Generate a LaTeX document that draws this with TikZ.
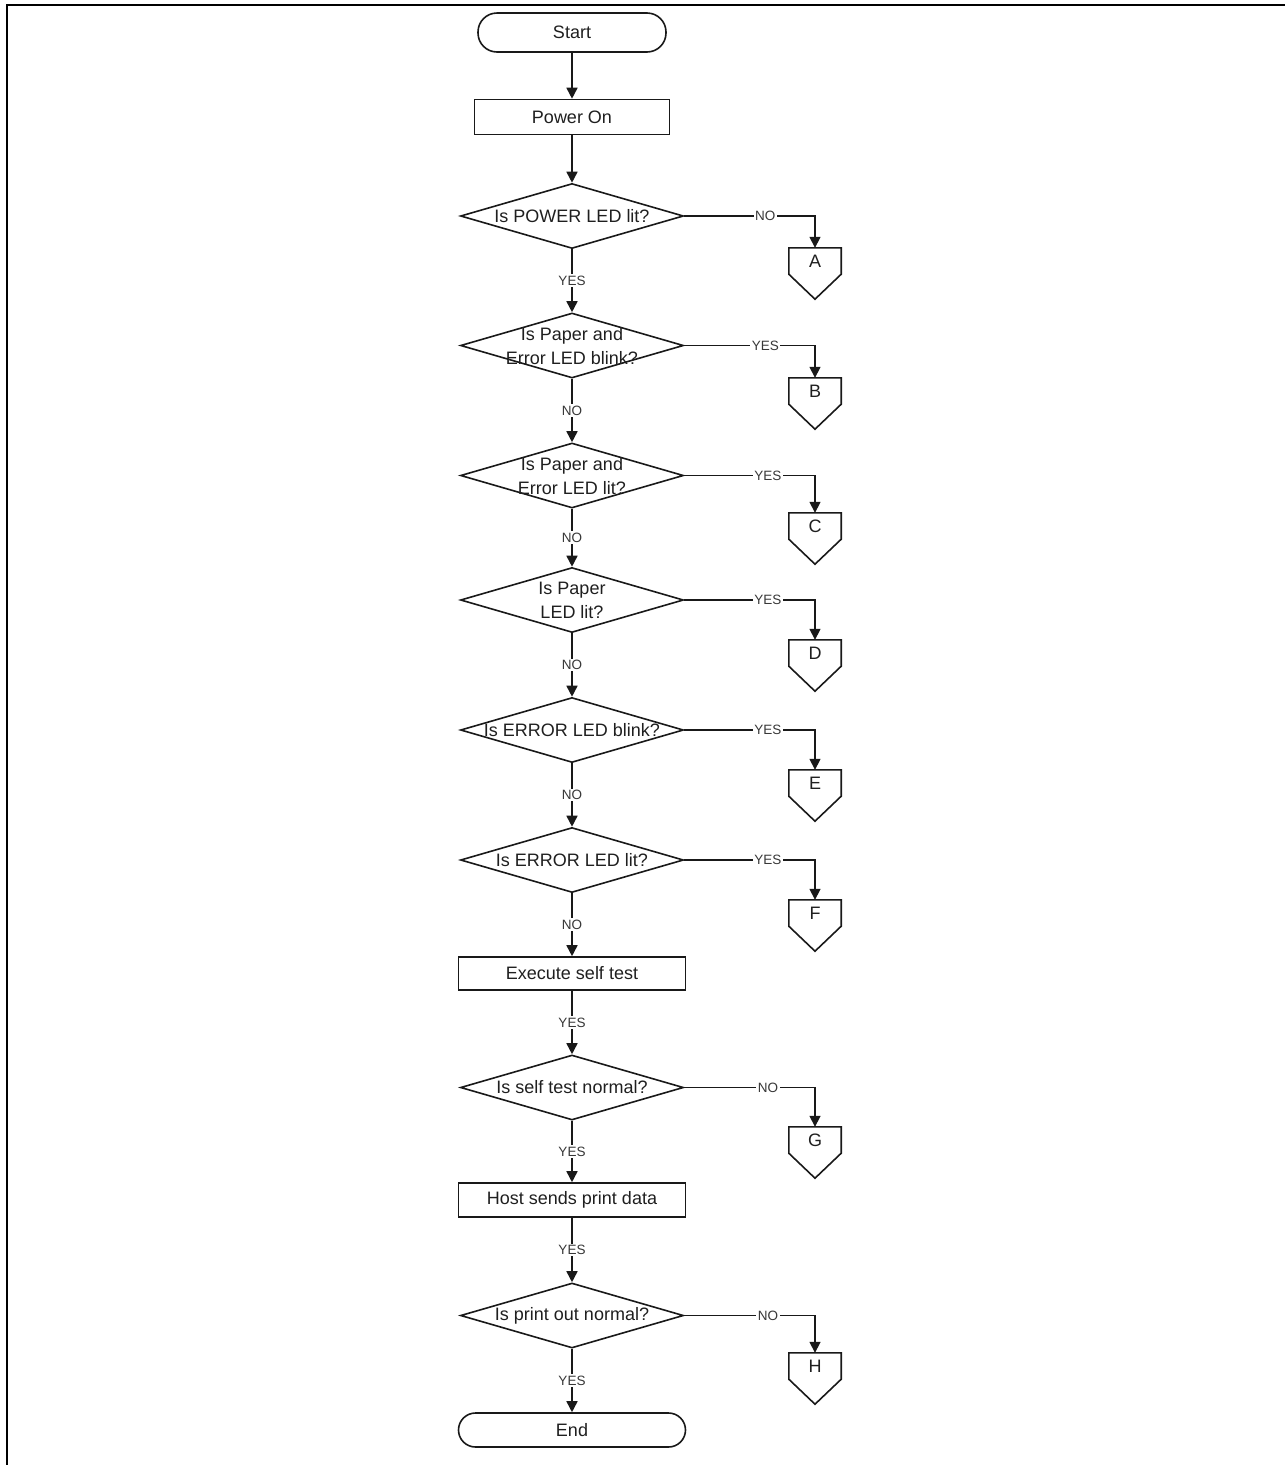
\documentclass[tikz,border=0pt]{standalone}
\usepackage{fontspec}
\setmainfont{Liberation Sans}
\usetikzlibrary{shapes.geometric,arrows.meta,calc}
\begin{document}
\begin{tikzpicture}[x=1pt,y=-1pt,
  every node/.style={font=\fontsize{18}{24}\selectfont, text=black!88},
  shapeline/.style={draw=black!90, line width=1.6pt},
  terminal/.style={shapeline, rectangle, inner sep=0pt},
  procbox/.style={shapeline, rectangle, inner sep=0pt},
  decision/.style={shapeline, diamond, inner sep=0pt, minimum width=223pt, minimum height=65pt},
  offpage/.style={inner sep=0pt, minimum width=52pt, minimum height=26pt},
  arr/.style={line width=1.6pt, draw=black!90, -{Triangle[length=11pt,width=11pt]}},
  lbl/.style={font=\fontsize{13.5}{15}\selectfont, fill=white, inner sep=1.5pt, text=black!78},
]
\useasboundingbox (0,0) rectangle (1285,1465);
\draw[line width=2.2pt] (7,1466) -- (7,5) -- (1286,5);

% main column
\node[terminal, rounded corners=19pt, minimum width=188pt, minimum height=39pt] (start) at (572,32.5) {Start};
\node[procbox, minimum width=195pt, minimum height=35pt] (power) at (572,117) {Power On};
\node[decision] (d1) at (572,216) {};
\node (t1) at (d1) {Is POWER LED lit?};
\node[decision] (d2) at (572,345.5) {};
\node[align=center] (t2) at ($(d2)+(0,1)$) {Is Paper and\\Error LED blink?};
\node[decision] (d3) at (572,475.5) {};
\node[align=center] (t3) at ($(d3)+(0,1)$) {Is Paper and\\Error LED lit?};
\node[decision] (d4) at (572,600) {};
\node[align=center] (t4) at (d4) {Is Paper\\LED lit?};
\node[decision] (d5) at (572,730) {};
\node (t5) at (d5) {Is ERROR LED blink?};
\node[decision] (d6) at (572,860) {};
\node (t6) at (d6) {Is ERROR LED lit?};
\node[procbox, minimum width=227pt, minimum height=33pt] (exec) at (572,973.5) {Execute self test};
\node[decision] (d7) at (572,1087.5) {};
\node (t7) at (d7) {Is self test normal?};
\node[procbox, minimum width=227pt, minimum height=34pt] (host) at (572,1200) {Host sends print data};
\node[decision] (d8) at (572,1315.5) {};
\node (t8) at (d8) {Is print out normal?};
\node[terminal, rounded corners=17pt, minimum width=227pt, minimum height=34pt] (end) at (572,1430) {End};

% off-page connectors
\node[offpage] (A) at (815,261) {\raisebox{-2pt}{A}};
\node[offpage] (B) at (815,391) {\raisebox{-2pt}{B}};
\node[offpage] (C) at (815,526) {\raisebox{-2pt}{C}};
\node[offpage] (D) at (815,653) {\raisebox{-2pt}{D}};
\node[offpage] (E) at (815,783) {\raisebox{-2pt}{E}};
\node[offpage] (F) at (815,913) {\raisebox{-2pt}{F}};
\node[offpage] (G) at (815,1140) {\raisebox{-2pt}{G}};
\node[offpage] (H) at (815,1366) {\raisebox{-2pt}{H}};
\foreach \n in {A,B,C,D,E,F,G,H}
  \draw[shapeline, line join=miter] (\n.north west) -- (\n.south west) -- ($(\n.south)+(0,25)$) -- (\n.south east) -- (\n.north east) -- cycle;

% vertical flow
\draw[arr] (start.south) -- (power.north);
\draw[arr] (power.south) -- (d1.north);
\draw[arr] (d1.south) -- node[lbl]{YES} (d2.north);
\draw[arr] (d2.south) -- node[lbl]{NO} (d3.north);
\draw[arr] (d3.south) -- node[lbl]{NO} (d4.north);
\draw[arr] (d4.south) -- node[lbl]{NO} (d5.north);
\draw[arr] (d5.south) -- node[lbl]{NO} (d6.north);
\draw[arr] (d6.south) -- node[lbl]{NO} (exec.north);
\draw[arr] (exec.south) -- node[lbl]{YES} (d7.north);
\draw[arr] (d7.south) -- node[lbl]{YES} (host.north);
\draw[arr] (host.south) -- node[lbl]{YES} (d8.north);
\draw[arr] (d8.south) -- node[lbl]{YES} (end.north);

% side branches
\draw[arr] (d1.east) -- node[lbl, pos=0.62]{NO} (d1.east -| A.north) -- (A.north);
\draw[arr] (d2.east) -- node[lbl, pos=0.62]{YES} (d2.east -| B.north) -- (B.north);
\draw[arr] (d3.east) -- node[lbl, pos=0.64]{YES} (d3.east -| C.north) -- (C.north);
\draw[arr] (d4.east) -- node[lbl, pos=0.64]{YES} (d4.east -| D.north) -- (D.north);
\draw[arr] (d5.east) -- node[lbl, pos=0.64]{YES} (d5.east -| E.north) -- (E.north);
\draw[arr] (d6.east) -- node[lbl, pos=0.64]{YES} (d6.east -| F.north) -- (F.north);
\draw[arr] (d7.east) -- node[lbl, pos=0.64]{NO} (d7.east -| G.north) -- (G.north);
\draw[arr] (d8.east) -- node[lbl, pos=0.64]{NO} (d8.east -| H.north) -- (H.north);
\end{tikzpicture}
\end{document}
